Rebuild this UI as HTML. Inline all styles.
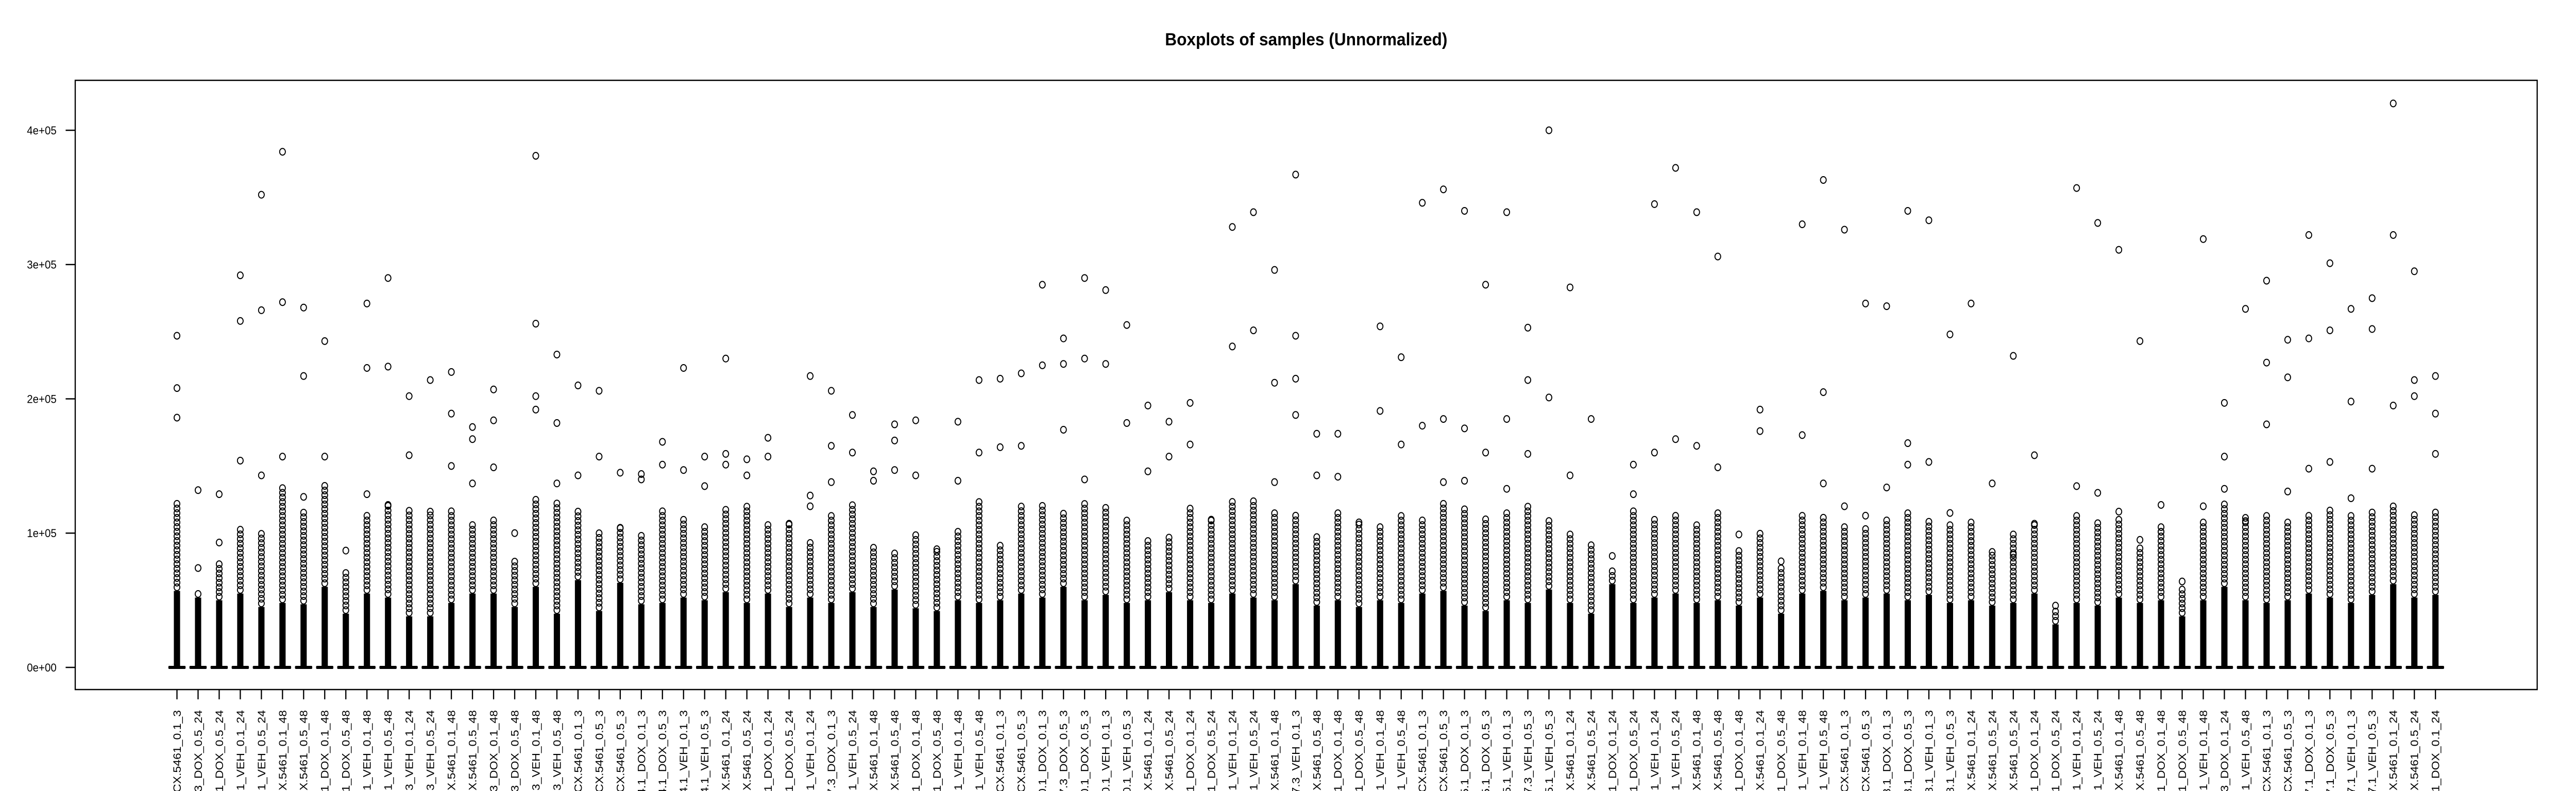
<!DOCTYPE html>
<html><head><meta charset="utf-8"><title>Boxplots of samples (Unnormalized)</title>
<style>html,body{margin:0;padding:0;background:#fff;width:100vw;height:100vh;overflow:hidden}svg{display:block;overflow:hidden;width:100vw;height:100vh}</style></head>
<body>
<svg id="chart" xmlns="http://www.w3.org/2000/svg" viewBox="0 0 5376 1536" preserveAspectRatio="none" font-family="'Liberation Sans', Arial, sans-serif">
<defs><clipPath id="frameClip"><rect x="0" y="0" width="5376" height="1536"/></clipPath></defs>
<rect width="5376" height="1536" fill="#fff"/>
<text x="2726" y="88" text-anchor="middle" font-size="34" font-weight="bold">Boxplots of samples (Unnormalized)</text>
<rect x="157" y="156" width="5138" height="1183" fill="none" stroke="#000" stroke-width="2.5"/>
<g id="yaxis"></g>
<g id="xaxis" clip-path="url(#frameClip)"></g>
<g id="boxes"></g>
</svg>
<script>
const labelTails = ["CX.5461_0.1_3","3_DOX_0.5_24","1_DOX_0.5_24","7.1_VEH_0.1_24","7.1_VEH_0.5_24","CX.5461_0.1_48","CX.5461_0.5_48","1_DOX_0.1_48","1_DOX_0.5_48","7.1_VEH_0.1_48","7.1_VEH_0.5_48","3_VEH_0.1_24","3_VEH_0.5_24","CX.5461_0.1_48","CX.5461_0.5_48","3_DOX_0.1_48","3_DOX_0.5_48","7.3_VEH_0.1_48","7.3_VEH_0.5_48","CX.5461_0.1_3","CX.5461_0.5_3","CX.5461_0.5_3","4.1_DOX_0.1_3","4.1_DOX_0.5_3","34.1_VEH_0.1_3","34.1_VEH_0.5_3","CX.5461_0.1_24","CX.5461_0.5_24","1_DOX_0.1_24","1_DOX_0.5_24","4.1_VEH_0.1_24","7.3_DOX_0.1_3","4.1_VEH_0.5_24","CX.5461_0.1_48","CX.5461_0.5_48","1_DOX_0.1_48","1_DOX_0.5_48","4.1_VEH_0.1_48","4.1_VEH_0.5_48","CX.5461_0.1_3","CX.5461_0.5_3","90.1_DOX_0.1_3","7.3_DOX_0.5_3","90.1_DOX_0.5_3","90.1_VEH_0.1_3","90.1_VEH_0.5_3","CX.5461_0.1_24","CX.5461_0.5_24","0.1_DOX_0.1_24","0.1_DOX_0.5_24","0.1_VEH_0.1_24","0.1_VEH_0.5_24","CX.5461_0.1_48","7.3_VEH_0.1_3","CX.5461_0.5_48","1_DOX_0.1_48","1_DOX_0.5_48","0.1_VEH_0.1_48","0.1_VEH_0.5_48","CX.5461_0.1_3","CX.5461_0.5_3","5.1_DOX_0.1_3","5.1_DOX_0.5_3","75.1_VEH_0.1_3","7.3_VEH_0.5_3","75.1_VEH_0.5_3","CX.5461_0.1_24","CX.5461_0.5_24","1_DOX_0.1_24","1_DOX_0.5_24","5.1_VEH_0.1_24","5.1_VEH_0.5_24","CX.5461_0.1_48","CX.5461_0.5_48","1_DOX_0.1_48","CX.5461_0.1_24","1_DOX_0.5_48","5.1_VEH_0.1_48","5.1_VEH_0.5_48","CX.5461_0.1_3","CX.5461_0.5_3","8.1_DOX_0.1_3","8.1_DOX_0.5_3","78.1_VEH_0.1_3","78.1_VEH_0.5_3","CX.5461_0.1_24","CX.5461_0.5_24","CX.5461_0.5_24","1_DOX_0.1_24","1_DOX_0.5_24","8.1_VEH_0.1_24","8.1_VEH_0.5_24","CX.5461_0.1_48","CX.5461_0.5_48","1_DOX_0.1_48","1_DOX_0.5_48","8.1_VEH_0.1_48","3_DOX_0.1_24","8.1_VEH_0.5_48","CX.5461_0.1_3","CX.5461_0.5_3","7.1_DOX_0.1_3","7.1_DOX_0.5_3","87.1_VEH_0.1_3","87.1_VEH_0.5_3","CX.5461_0.1_24","CX.5461_0.5_24","1_DOX_0.1_24"];
const yTicks = [0, 100000, 200000, 300000, 400000];
const yTickLabels = ["0e+00","1e+05","2e+05","3e+05","4e+05"];
// dense region top (k counts)
const stemTop = [57,52,50,55,45,48,47,60,40,55,52,38,38,48,55,55,45,60,40,65,42,63,47,48,
52,50,56,48,55,45,52,48,56,45,58,44,42,50,48,50,55,52,60,50,54,48,50,56,50,48,55,52,50,62,46,50,45,
50,48,55,57,46,42,50,48,58,48,40,62,48,52,55,48,50,46,52,40,55,57,50,52,55,50,54,48,50,46,48,55,32,
48,46,52,48,50,38,50,60,50,48,50,55,52,48,54,62,52,54];
// top of the sparse outlier cluster (k counts)
const clusterTop = [122,57,80,105,102,135,118,137,72,113,122,120,116,118,107,111,80,125,124,118,103,104,100,118,
110,107,120,120,107,107,96,116,122,92,88,100,88,103,125,94,122,123,116,122,120,110,96,100,120,110,125,124,115,116,98,115,108,
105,115,110,125,120,112,118,120,110,100,90,75,118,110,115,108,118,90,100,75,115,112,105,105,112,118,110,108,110,85,100,108,45,
115,110,112,90,105,60,108,122,112,115,110,115,118,116,118,122,116,118];
// large individual outliers (k counts)
const bigOutliers = [[247,208,186],[132,74],[129,93],[292,258,154],[352,266,143],[384,272,157],[268,217,127],[243,157],[87],[271,223,129],[290,224,121],[202,158],[214,116],[220,189,150],[179,170,137],[207,184,149],[100],[381,256,202,192],[233,182,137],[210,143],[206,157],[145,104],[144,140],[168,151],
[223,147],[157,135],[230,159,151],[155,143],[171,157],[107],[217,128,120],[206,165,138],[188,160],[146,139],[181,169,147],[184,143],[88],[183,139],[214,160],[215,164],[219,165],[285,225],[245,226,177],[290,230,140],[281,226],[255,182],[195,146],[183,157],[197,166],[110],[328,239],[339,251],[296,212,138],[367,247,215,188],[174,143],[174,142],[108],
[254,191],[231,166],[346,180],[356,185,138],[340,178,139],[285,160],[339,185,133],[253,214,159],[400,201],[283,143],[185,91],[83],[151,129],[345,160],[372,170],[339,165],[306,149],[99],[192,176],[79],[330,173],[363,205,137],[326,120],[271,113],[269,134],[340,167,151],[333,153],[248,115],[271,94],[137,86],[232,84],[158,107],[46],
[357,135],[331,130],[311,116],[243,95],[121,101],[64],[319,120],[197,157,133],[267,109],[288,227,181],[244,216,131],[322,245,148],[301,251,153],[267,198,126],[275,252,148],[420,322,195],[295,214,202],[217,189,159]];

const NS = "http://www.w3.org/2000/svg";
const N = labelTails.length;
const plotL = 157, plotR = 5295;
const unit = (plotR - plotL) / (N * 1.08);
function xScale(i){ return plotL + (i + 0.5 + 0.04 * N) * unit; }
const y0 = 1296, yPer = (1296 - 253) / 400000;
function yScale(v){ return y0 - v * yPer; }
function mk(tag, attrs, parent){ const e = document.createElementNS(NS, tag); for (const k in attrs) e.setAttribute(k, attrs[k]); parent.appendChild(e); return e; }

const yax = document.getElementById("yaxis");
yTicks.forEach((v, j) => {
  const y = yScale(v);
  const t = mk("line", {x1: 137, x2: plotL, y1: y, y2: y, stroke: "#000", "stroke-width": 2.5}, yax);
  
  
  const l = mk("text", {x: 118, y: y + 8, "text-anchor": "end", "font-size": 22}, yax);
  
  
  l.textContent = yTickLabels[j];
});

const xax = document.getElementById("xaxis");
const bx = document.getElementById("boxes");
for (let i = 0; i < N; i++) {
  const x = xScale(i);
  const t = mk("line", {x1: x, x2: x, y1: 1339, y2: 1358, stroke: "#000", "stroke-width": 2.5}, xax);
  
  
  const lab = mk("text", {x: 0, y: 0, "text-anchor": "end", "font-size": 23, transform: "translate(" + (x + 8) + ",1379) rotate(-90)"}, xax);
  
  
  lab.textContent = labelTails[i];

  const g = mk("g", {}, bx);
  
  
  const sTop = yScale(stemTop[i] * 1000);
  const stem = mk("rect", {x: x - 6.5, y: sTop, width: 13, height: y0 - sTop, fill: "#000"}, g);
  
  
  const cap = mk("rect", {x: x - 18, y: y0 - 3, width: 36, height: 6, rx: 2, fill: "#000"}, g);
  
  
  const cTop = yScale(clusterTop[i] * 1000);
  for (let y = sTop - 7; y >= cTop; y -= 9) {
    const c = mk("ellipse", {cx: x, cy: y, rx: 6, ry: 6.5, fill: "none", stroke: "#000", "stroke-width": 2}, g);
    
    
  }
  bigOutliers[i].forEach(v => {
    const c = mk("ellipse", {cx: x, cy: yScale(v * 1000), rx: 6, ry: 6.5, fill: "none", stroke: "#000", "stroke-width": 2}, g);
    
    
  });
}
</script>
</body></html>
